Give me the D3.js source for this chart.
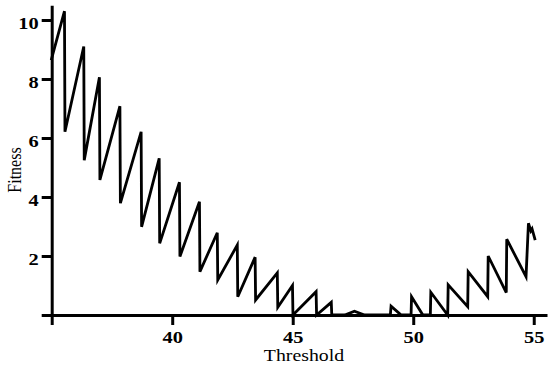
<!DOCTYPE html>
<html>
<head>
<meta charset="utf-8">
<script src="https://cdn.jsdelivr.net/npm/d3@7"></script>
<style>
  body { margin: 0; background: #fff; }
  svg { display: block; }
</style>
</head>
<body>
<div id="chart"></div>
<script>
// sawtooth
const threshold = [
  34.98, 35.53, 35.55, 36.33, 36.35, 36.98, 37.0, 37.83, 37.85, 38.71, 38.73,
  39.46, 39.48, 40.30, 40.32, 41.13, 41.15, 41.87, 41.89, 42.70, 42.72,
  43.44, 43.46, 44.36, 44.38, 44.99, 45.01, 45.97, 45.99, 46.60, 46.62,
  47.16, 47.56, 47.98, 49.05, 49.08, 49.50, 49.91, 49.93, 50.40, 50.71, 50.73,
  51.43, 51.45, 52.26, 52.28, 53.09, 53.11, 53.86, 53.88, 54.68, 54.78,
  54.88, 54.93, 55.06
];
const fitness = [
  8.64, 10.3, 6.21, 9.1, 5.25, 8.06, 4.58, 7.08, 3.79, 6.21, 2.99,
  5.31, 2.43, 4.5, 1.98, 3.84, 1.47, 2.79, 1.19, 2.37, 0.62,
  1.96, 0.51, 1.43, 0.26, 1.0, 0.0, 0.79, 0.0, 0.43, 0.0,
  0.0, 0.13, 0.0, 0.0, 0.3, 0.0, 0.0, 0.62, 0.0, 0.0, 0.77,
  0.0, 1.02, 0.28, 1.47, 0.62, 2.0, 0.76, 2.57, 1.3, 3.11,
  2.85, 2.92, 2.54
];
const xTicks = [35, 40, 45, 50, 55];
const yTicks = [0, 2, 4, 6, 8, 10];

const width = 548, height = 367;
const sx = 1.2; // text in the picture is stretched sideways
const font = "'Liberation Serif', 'Times New Roman', serif";

const svg = d3.select("#chart").append("svg")
  .attr("width", width).attr("height", height);

const x = d3.scaleLinear().domain([35, 55.55]).range([51.7, 547]);
const y = d3.scaleLinear().domain([0, 10.5]).range([315, 5.25]);

const gx = svg.append("g")
  .attr("transform", `translate(0,${y(0)})`)
  .call(d3.axisBottom(x).tickValues(xTicks).tickSize(10).tickSizeOuter(0)
    .tickFormat(d => d === 35 ? "" : d));

const gy = svg.append("g")
  .attr("transform", `translate(${x(35)},0)`)
  .call(d3.axisLeft(y).tickValues(yTicks).tickSize(10).tickSizeOuter(0)
    .tickFormat(d => d === 0 ? "" : d));

[gx, gy].forEach(g => {
  g.selectAll("path, line").attr("stroke", "#000").attr("stroke-width", 3);
  g.selectAll("text")
    .attr("fill", "#000")
    .style("font-family", font)
    .style("font-weight", "bold")
    .style("font-size", "17px");
});

gx.selectAll("text").attr("y", 16).attr("dy", "0.71em")
  .attr("transform", `scale(${sx},1)`);
gy.selectAll("text").attr("x", -13 / sx).attr("dy", "0.5em")
  .attr("transform", `scale(${sx},1)`);

const line = d3.line().x(d => x(d[0])).y(d => y(d[1]));
svg.append("path")
  .datum(threshold.map((t, i) => [t, fitness[i]]))
  .attr("d", line)
  .attr("fill", "none")
  .attr("stroke", "#000")
  .attr("stroke-width", 2.8)
  .attr("stroke-linejoin", "miter");

// axis titles
svg.append("text")
  .attr("transform", `translate(304,361) scale(${sx},1)`)
  .attr("text-anchor", "middle")
  .style("font-family", font)
  .style("font-size", "16.5px")
  .text("Threshold");

svg.append("text")
  .attr("transform", `translate(21,170) scale(${sx},1) rotate(-90)`)
  .attr("text-anchor", "middle")
  .style("font-family", font)
  .style("font-size", "16px")
  .text("Fitness");
</script>
</body>
</html>
